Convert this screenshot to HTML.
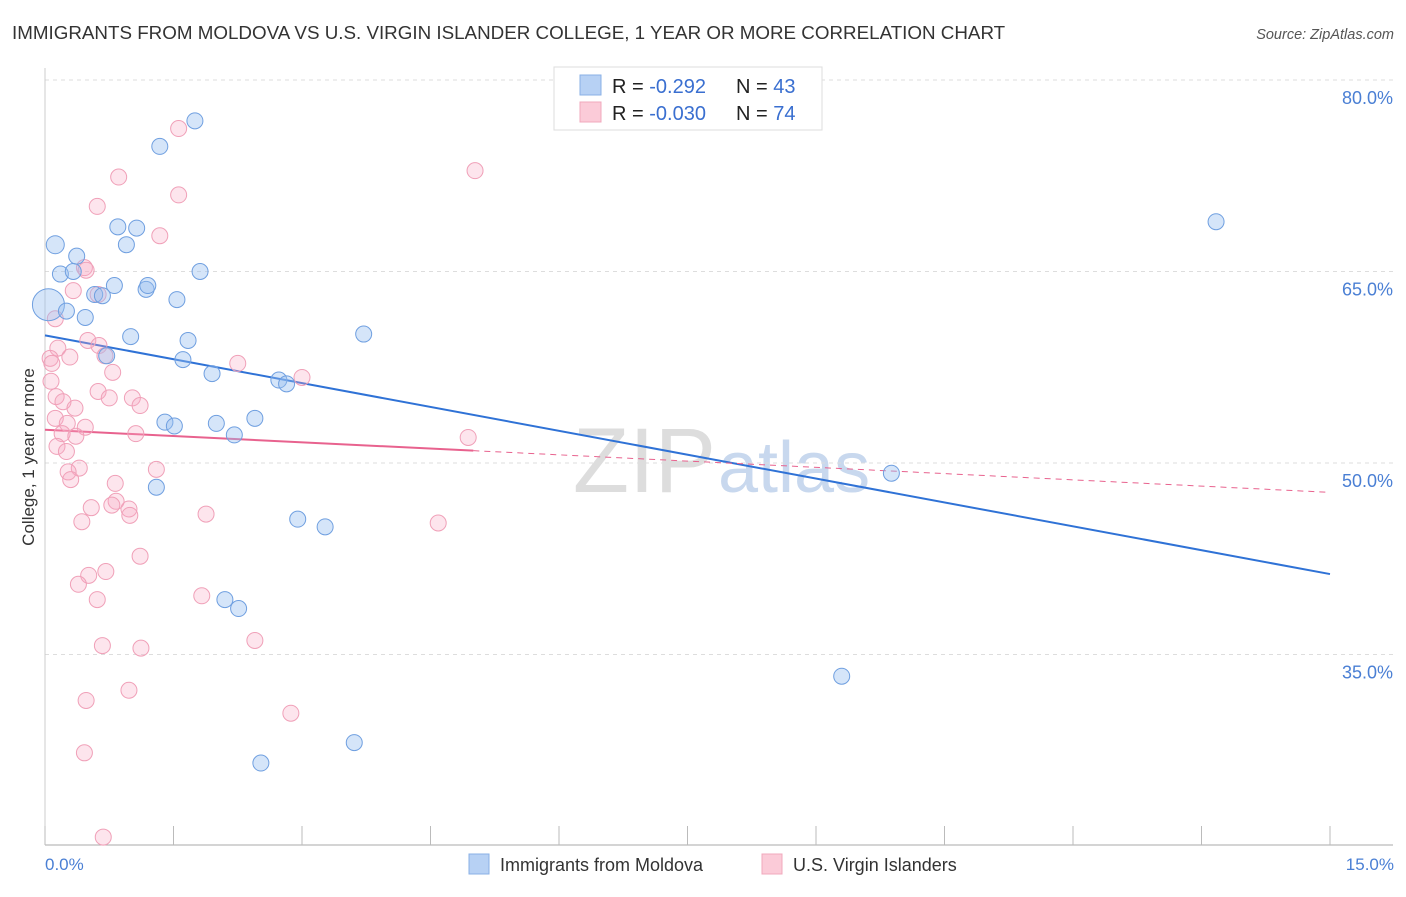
<!DOCTYPE html>
<html><head><meta charset="utf-8"><style>
body{margin:0;background:#fff;font-family:"Liberation Sans",sans-serif;}
svg text{font-family:"Liberation Sans",sans-serif;}
</style></head><body>
<svg id="chart" width="1406" height="892">
<text x="12" y="39" font-size="18.8" fill="#333">IMMIGRANTS FROM MOLDOVA VS U.S. VIRGIN ISLANDER COLLEGE, 1 YEAR OR MORE CORRELATION CHART</text>
<text x="1394" y="39" font-size="14.5" fill="#555" font-style="italic" text-anchor="end">Source: ZipAtlas.com</text>
<text x="716" y="492" font-size="92" fill="#ddd" text-anchor="end" font-family="Liberation Serif">ZIP</text>
<text x="718" y="492" font-size="72" fill="#c8d8ee">atlas</text>
<g id="grid"></g><g id="axes"></g><g id="trends"></g><g id="points"></g>
<text transform="translate(34,457) rotate(-90)" font-size="17" fill="#333" text-anchor="middle">College, 1 year or more</text>
<text x="45" y="870" font-size="17" fill="#4a7fd4">0.0%</text>
<text x="1394" y="870" font-size="17" fill="#4a7fd4" text-anchor="end">15.0%</text>
<g>
<rect x="469" y="854" width="20" height="20" fill="#b7d1f4" stroke="#8ab0e6"/>
<text x="500" y="871" font-size="18" fill="#333">Immigrants from Moldova</text>
<rect x="762" y="854" width="20" height="20" fill="#fbcbd8" stroke="#f0a8bc"/>
<text x="793" y="871" font-size="18" fill="#333">U.S. Virgin Islanders</text>
</g>
<g>
<rect x="554" y="67" width="268" height="63" fill="#fff" stroke="#ddd"/>
<rect x="580" y="75" width="21" height="20" fill="#b7d1f4" stroke="#8ab0e6"/>
<rect x="580" y="102" width="21" height="20" fill="#fbcbd8" stroke="#f0a8bc"/>
<text x="612" y="93" font-size="20" fill="#222">R = <tspan fill="#3a6fd0"> -0.292</tspan><tspan x="736">N = </tspan><tspan fill="#3a6fd0">43</tspan></text>
<text x="612" y="120" font-size="20" fill="#222">R = <tspan fill="#3a6fd0">-0.030</tspan><tspan x="736">N = </tspan><tspan fill="#3a6fd0">74</tspan></text>
</g>
</svg>
<script>
const yTicks=[35,50,65,80];
const yTickLabels=["35.0%","50.0%","65.0%","80.0%"];
const xTicks=[0,1.5,3,4.5,6,7.5,9,10.5,12,13.5,15];
const blueX=[1.75,1.34,13.67,0.12,0.85,1.07,0.95,0.37,0.18,0.33,1.81,0.81,1.18,1.2,0.58,0.67,1.54,0.04,0.25,0.47,3.72,1.0,1.67,0.72,1.61,1.95,2.73,2.82,2.45,1.4,1.51,2.0,2.21,9.88,1.3,2.95,3.27,2.1,2.26,9.3,3.61,2.52];
const blueY=[76.8,74.8,68.9,67.1,68.5,68.4,67.1,66.2,64.8,65.0,65.0,63.9,63.6,63.9,63.2,63.1,62.8,62.4,61.9,61.4,60.1,59.9,59.6,58.4,58.1,57.0,56.5,56.2,53.5,53.2,52.9,53.1,52.2,49.2,48.1,45.6,45.0,39.3,38.6,33.3,28.1,26.5];
const blueR=[8,8,8,9,8,8,8,8,8,8,8,8,8,8,8,8,8,16,8,8,8,8,8,8,8,8,8,8,8,8,8,8,8,8,8,8,8,8,8,8,8,8];
const pinkX=[1.56,5.02,0.86,1.56,0.61,1.34,0.46,0.48,0.33,0.62,0.12,0.5,0.63,0.15,0.29,0.06,0.08,0.7,2.25,0.79,3.0,0.07,0.62,0.13,0.75,1.02,0.21,1.11,0.35,0.12,0.26,0.47,0.2,0.36,1.06,4.94,0.14,0.25,0.4,0.27,1.3,0.3,0.82,0.83,0.54,0.78,0.98,1.88,0.99,0.43,4.59,1.11,0.71,0.51,0.39,1.83,0.61,2.45,0.67,1.12,0.98,0.48,2.87,0.46,0.68];
const pinkY=[76.2,72.9,72.4,71.0,70.1,67.8,65.3,65.1,63.5,63.2,61.3,59.6,59.2,59.0,58.3,58.2,57.8,58.4,57.8,57.1,56.7,56.4,55.6,55.2,55.1,55.1,54.8,54.5,54.3,53.5,53.1,52.8,52.3,52.1,52.3,52.0,51.3,50.9,49.6,49.3,49.5,48.7,48.4,47.0,46.5,46.7,46.4,46.0,45.9,45.4,45.3,42.7,41.5,41.2,40.5,39.6,39.3,36.1,35.7,35.5,32.2,31.4,30.4,27.3,20.7];
const blueTrend=[60.0,41.3];
const pinkTrend=[52.6,47.7];
const pinkSolidEnd=5.0;
const NS="http://www.w3.org/2000/svg";
const X0=45,X1=1330,Y50=463,PXP=191.5/15;
const sx=v=>X0+v/15*(X1-X0);
const sy=v=>Y50-(v-50)*PXP;
function mk(t,a,p){const e=document.createElementNS(NS,t);for(const k in a)e.setAttribute(k,a[k]);p.appendChild(e);return e;}
const grid=document.getElementById('grid'),axes=document.getElementById('axes'),tr=document.getElementById('trends'),pts=document.getElementById('points');
yTicks.forEach((t,i)=>{
 const l=mk('line',{x1:45,x2:1393,y1:sy(t),y2:sy(t),stroke:'#ddd','stroke-dasharray':'4,4'},grid);
 
 
 const tx=mk('text',{x:1393,y:sy(t)+24,'font-size':18,fill:'#4a7fd4','text-anchor':'end'},grid);
 tx.textContent=yTickLabels[i];
 
 
});
const ax=mk('line',{x1:45,x2:1393,y1:845,y2:845,stroke:'#aaa'},axes);


const ay=mk('line',{x1:45,x2:45,y1:68,y2:845,stroke:'#ccc'},axes);


xTicks.forEach(t=>{
 const l=mk('line',{x1:sx(t),x2:sx(t),y1:826,y2:845,stroke:'#bbb'},axes);
 
 
});
const bt=mk('line',{x1:sx(0),y1:sy(blueTrend[0]),x2:sx(15),y2:sy(blueTrend[1]),stroke:'#2f72d6','stroke-width':2},tr);


const pe=pinkTrend[0]+(pinkTrend[1]-pinkTrend[0])*pinkSolidEnd/15;
const pt1=mk('line',{x1:sx(0),y1:sy(pinkTrend[0]),x2:sx(pinkSolidEnd),y2:sy(pe),stroke:'#e8628e','stroke-width':2},tr);


const pt2=mk('line',{x1:sx(pinkSolidEnd),y1:sy(pe),x2:sx(15),y2:sy(pinkTrend[1]),stroke:'#e8628e','stroke-width':1,'stroke-dasharray':'6,5'},tr);


pinkX.forEach((x,i)=>{
 const c=mk('circle',{cx:sx(x),cy:sy(pinkY[i]),r:8,fill:'rgba(248,170,195,0.3)',stroke:'#f0a0b8','stroke-width':1},pts);
 
 
});
blueX.forEach((x,i)=>{
 const c=mk('circle',{cx:sx(x),cy:sy(blueY[i]),r:blueR[i],fill:'rgba(150,190,240,0.4)',stroke:'#6f9fe0','stroke-width':1},pts);
 
 
});
</script>
</body></html>
